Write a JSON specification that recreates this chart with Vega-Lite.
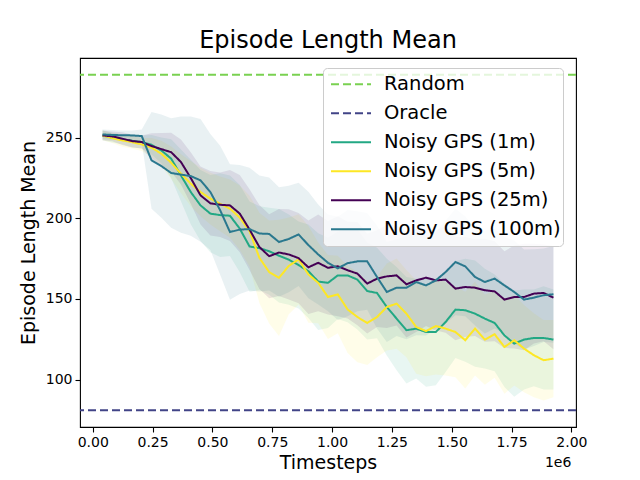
{
  "$schema": "https://vega.github.io/schema/vega-lite/v6.json",
  "width": 496,
  "height": 369,
  "autosize": {"type": "none"},
  "padding": {"left": 80, "top": 58, "right": 64, "bottom": 53},
  "background": "white",
  "title": {
    "text": "Episode Length Mean",
    "fontSize": 24,
    "fontWeight": "normal",
    "font": "DejaVu Sans",
    "color": "black",
    "anchor": "middle",
    "offset": 5
  },
  "datasets": {
    "runs": [
      {"series": "Noisy GPS (1m)", "t": 40960, "m": 251.4, "lo": 248.4, "hi": 254.4},
      {"series": "Noisy GPS (1m)", "t": 81920, "m": 250.0, "lo": 247.0, "hi": 253.0},
      {"series": "Noisy GPS (1m)", "t": 122880, "m": 248.9, "lo": 245.9, "hi": 251.9},
      {"series": "Noisy GPS (1m)", "t": 163840, "m": 248.1, "lo": 244.1, "hi": 252.1},
      {"series": "Noisy GPS (1m)", "t": 204800, "m": 247.3, "lo": 243.3, "hi": 251.3},
      {"series": "Noisy GPS (1m)", "t": 245760, "m": 245.6, "lo": 239.6, "hi": 251.6},
      {"series": "Noisy GPS (1m)", "t": 286720, "m": 242.1, "lo": 234.1, "hi": 250.1},
      {"series": "Noisy GPS (1m)", "t": 327680, "m": 237.0, "lo": 225.0, "hi": 249.0},
      {"series": "Noisy GPS (1m)", "t": 368640, "m": 226.6, "lo": 210.6, "hi": 242.6},
      {"series": "Noisy GPS (1m)", "t": 409600, "m": 216.3, "lo": 196.3, "hi": 236.3},
      {"series": "Noisy GPS (1m)", "t": 450560, "m": 208.0, "lo": 186.0, "hi": 230.0},
      {"series": "Noisy GPS (1m)", "t": 491520, "m": 202.9, "lo": 178.9, "hi": 226.9},
      {"series": "Noisy GPS (1m)", "t": 532480, "m": 202.0, "lo": 176.0, "hi": 228.0},
      {"series": "Noisy GPS (1m)", "t": 573440, "m": 201.6, "lo": 176.6, "hi": 226.6},
      {"series": "Noisy GPS (1m)", "t": 614400, "m": 193.6, "lo": 166.6, "hi": 220.6},
      {"series": "Noisy GPS (1m)", "t": 655360, "m": 182.5, "lo": 154.5, "hi": 210.5},
      {"series": "Noisy GPS (1m)", "t": 696320, "m": 181.5, "lo": 155.5, "hi": 207.5},
      {"series": "Noisy GPS (1m)", "t": 737280, "m": 179.6, "lo": 152.6, "hi": 206.6},
      {"series": "Noisy GPS (1m)", "t": 778240, "m": 176.8, "lo": 147.8, "hi": 205.8},
      {"series": "Noisy GPS (1m)", "t": 819200, "m": 174.4, "lo": 146.4, "hi": 202.4},
      {"series": "Noisy GPS (1m)", "t": 860160, "m": 171.0, "lo": 144.0, "hi": 198.0},
      {"series": "Noisy GPS (1m)", "t": 901120, "m": 167.2, "lo": 138.2, "hi": 196.2},
      {"series": "Noisy GPS (1m)", "t": 942080, "m": 160.8, "lo": 130.8, "hi": 190.8},
      {"series": "Noisy GPS (1m)", "t": 983040, "m": 160.0, "lo": 132.0, "hi": 188.0},
      {"series": "Noisy GPS (1m)", "t": 1024000, "m": 164.6, "lo": 137.6, "hi": 191.6},
      {"series": "Noisy GPS (1m)", "t": 1064960, "m": 164.6, "lo": 135.6, "hi": 193.6},
      {"series": "Noisy GPS (1m)", "t": 1105920, "m": 162.0, "lo": 131.0, "hi": 193.0},
      {"series": "Noisy GPS (1m)", "t": 1146880, "m": 154.9, "lo": 124.9, "hi": 184.9},
      {"series": "Noisy GPS (1m)", "t": 1187840, "m": 153.7, "lo": 125.7, "hi": 181.7},
      {"series": "Noisy GPS (1m)", "t": 1228800, "m": 145.0, "lo": 115.0, "hi": 175.0},
      {"series": "Noisy GPS (1m)", "t": 1269760, "m": 137.8, "lo": 105.8, "hi": 169.8},
      {"series": "Noisy GPS (1m)", "t": 1310720, "m": 130.6, "lo": 97.6, "hi": 163.6},
      {"series": "Noisy GPS (1m)", "t": 1351680, "m": 131.6, "lo": 100.6, "hi": 162.6},
      {"series": "Noisy GPS (1m)", "t": 1392640, "m": 129.5, "lo": 95.5, "hi": 163.5},
      {"series": "Noisy GPS (1m)", "t": 1433600, "m": 129.5, "lo": 96.5, "hi": 162.5},
      {"series": "Noisy GPS (1m)", "t": 1474560, "m": 135.7, "lo": 104.7, "hi": 166.7},
      {"series": "Noisy GPS (1m)", "t": 1515520, "m": 143.4, "lo": 113.4, "hi": 173.4},
      {"series": "Noisy GPS (1m)", "t": 1556480, "m": 143.0, "lo": 111.0, "hi": 175.0},
      {"series": "Noisy GPS (1m)", "t": 1597440, "m": 140.9, "lo": 107.9, "hi": 173.9},
      {"series": "Noisy GPS (1m)", "t": 1638400, "m": 137.8, "lo": 106.8, "hi": 168.8},
      {"series": "Noisy GPS (1m)", "t": 1679360, "m": 135.1, "lo": 105.1, "hi": 165.1},
      {"series": "Noisy GPS (1m)", "t": 1720320, "m": 127.4, "lo": 95.4, "hi": 159.4},
      {"series": "Noisy GPS (1m)", "t": 1761280, "m": 122.3, "lo": 89.3, "hi": 155.3},
      {"series": "Noisy GPS (1m)", "t": 1802240, "m": 124.8, "lo": 93.8, "hi": 155.8},
      {"series": "Noisy GPS (1m)", "t": 1843200, "m": 125.8, "lo": 95.8, "hi": 155.8},
      {"series": "Noisy GPS (1m)", "t": 1884160, "m": 125.8, "lo": 93.8, "hi": 157.8},
      {"series": "Noisy GPS (1m)", "t": 1925120, "m": 124.8, "lo": 93.8, "hi": 155.8},

      {"series": "Noisy GPS (5m)", "t": 40960, "m": 251.4, "lo": 248.4, "hi": 254.4},
      {"series": "Noisy GPS (5m)", "t": 81920, "m": 249.7, "lo": 246.7, "hi": 252.7},
      {"series": "Noisy GPS (5m)", "t": 122880, "m": 248.3, "lo": 244.3, "hi": 252.3},
      {"series": "Noisy GPS (5m)", "t": 163840, "m": 247.3, "lo": 243.3, "hi": 251.3},
      {"series": "Noisy GPS (5m)", "t": 204800, "m": 245.8, "lo": 241.8, "hi": 249.8},
      {"series": "Noisy GPS (5m)", "t": 245760, "m": 243.8, "lo": 237.8, "hi": 249.8},
      {"series": "Noisy GPS (5m)", "t": 286720, "m": 240.1, "lo": 232.1, "hi": 248.1},
      {"series": "Noisy GPS (5m)", "t": 327680, "m": 234.5, "lo": 224.5, "hi": 244.5},
      {"series": "Noisy GPS (5m)", "t": 368640, "m": 227.7, "lo": 215.7, "hi": 239.7},
      {"series": "Noisy GPS (5m)", "t": 409600, "m": 221.5, "lo": 207.5, "hi": 235.5},
      {"series": "Noisy GPS (5m)", "t": 450560, "m": 216.3, "lo": 201.3, "hi": 231.3},
      {"series": "Noisy GPS (5m)", "t": 491520, "m": 212.2, "lo": 196.2, "hi": 228.2},
      {"series": "Noisy GPS (5m)", "t": 532480, "m": 209.0, "lo": 192.0, "hi": 226.0},
      {"series": "Noisy GPS (5m)", "t": 573440, "m": 206.0, "lo": 188.0, "hi": 224.0},
      {"series": "Noisy GPS (5m)", "t": 614400, "m": 200.4, "lo": 180.4, "hi": 220.4},
      {"series": "Noisy GPS (5m)", "t": 655360, "m": 192.0, "lo": 170.0, "hi": 214.0},
      {"series": "Noisy GPS (5m)", "t": 696320, "m": 175.5, "lo": 147.5, "hi": 203.5},
      {"series": "Noisy GPS (5m)", "t": 737280, "m": 166.7, "lo": 134.7, "hi": 198.7},
      {"series": "Noisy GPS (5m)", "t": 778240, "m": 163.1, "lo": 127.1, "hi": 199.1},
      {"series": "Noisy GPS (5m)", "t": 819200, "m": 170.5, "lo": 140.5, "hi": 200.5},
      {"series": "Noisy GPS (5m)", "t": 860160, "m": 174.5, "lo": 146.5, "hi": 202.5},
      {"series": "Noisy GPS (5m)", "t": 901120, "m": 165.2, "lo": 135.2, "hi": 195.2},
      {"series": "Noisy GPS (5m)", "t": 942080, "m": 160.0, "lo": 135.0, "hi": 185.0},
      {"series": "Noisy GPS (5m)", "t": 983040, "m": 151.2, "lo": 125.2, "hi": 177.2},
      {"series": "Noisy GPS (5m)", "t": 1024000, "m": 152.8, "lo": 128.8, "hi": 176.8},
      {"series": "Noisy GPS (5m)", "t": 1064960, "m": 143.5, "lo": 116.5, "hi": 170.5},
      {"series": "Noisy GPS (5m)", "t": 1105920, "m": 138.8, "lo": 110.8, "hi": 166.8},
      {"series": "Noisy GPS (5m)", "t": 1146880, "m": 135.1, "lo": 109.1, "hi": 161.1},
      {"series": "Noisy GPS (5m)", "t": 1187840, "m": 138.8, "lo": 113.8, "hi": 163.8},
      {"series": "Noisy GPS (5m)", "t": 1228800, "m": 145.0, "lo": 118.0, "hi": 172.0},
      {"series": "Noisy GPS (5m)", "t": 1269760, "m": 147.1, "lo": 119.1, "hi": 175.1},
      {"series": "Noisy GPS (5m)", "t": 1310720, "m": 140.9, "lo": 113.9, "hi": 167.9},
      {"series": "Noisy GPS (5m)", "t": 1351680, "m": 132.6, "lo": 103.6, "hi": 161.6},
      {"series": "Noisy GPS (5m)", "t": 1392640, "m": 130.1, "lo": 102.1, "hi": 158.1},
      {"series": "Noisy GPS (5m)", "t": 1433600, "m": 133.2, "lo": 103.2, "hi": 163.2},
      {"series": "Noisy GPS (5m)", "t": 1474560, "m": 131.6, "lo": 102.6, "hi": 160.6},
      {"series": "Noisy GPS (5m)", "t": 1515520, "m": 129.5, "lo": 101.5, "hi": 157.5},
      {"series": "Noisy GPS (5m)", "t": 1556480, "m": 124.4, "lo": 94.4, "hi": 154.4},
      {"series": "Noisy GPS (5m)", "t": 1597440, "m": 131.6, "lo": 102.6, "hi": 160.6},
      {"series": "Noisy GPS (5m)", "t": 1638400, "m": 124.8, "lo": 96.8, "hi": 152.8},
      {"series": "Noisy GPS (5m)", "t": 1679360, "m": 128.1, "lo": 101.1, "hi": 155.1},
      {"series": "Noisy GPS (5m)", "t": 1720320, "m": 120.2, "lo": 91.2, "hi": 149.2},
      {"series": "Noisy GPS (5m)", "t": 1761280, "m": 124.4, "lo": 96.4, "hi": 152.4},
      {"series": "Noisy GPS (5m)", "t": 1802240, "m": 119.2, "lo": 92.2, "hi": 146.2},
      {"series": "Noisy GPS (5m)", "t": 1843200, "m": 115.1, "lo": 89.1, "hi": 141.1},
      {"series": "Noisy GPS (5m)", "t": 1884160, "m": 112.0, "lo": 87.0, "hi": 137.0},
      {"series": "Noisy GPS (5m)", "t": 1925120, "m": 113.0, "lo": 89.0, "hi": 137.0},

      {"series": "Noisy GPS (25m)", "t": 40960, "m": 251.4, "lo": 248.4, "hi": 254.4},
      {"series": "Noisy GPS (25m)", "t": 81920, "m": 250.8, "lo": 247.8, "hi": 253.8},
      {"series": "Noisy GPS (25m)", "t": 122880, "m": 249.4, "lo": 245.4, "hi": 253.4},
      {"series": "Noisy GPS (25m)", "t": 163840, "m": 247.9, "lo": 243.9, "hi": 251.9},
      {"series": "Noisy GPS (25m)", "t": 204800, "m": 247.3, "lo": 243.3, "hi": 251.3},
      {"series": "Noisy GPS (25m)", "t": 245760, "m": 244.8, "lo": 236.8, "hi": 252.8},
      {"series": "Noisy GPS (25m)", "t": 286720, "m": 242.9, "lo": 232.9, "hi": 252.9},
      {"series": "Noisy GPS (25m)", "t": 327680, "m": 241.0, "lo": 229.0, "hi": 253.0},
      {"series": "Noisy GPS (25m)", "t": 368640, "m": 234.9, "lo": 220.9, "hi": 248.9},
      {"series": "Noisy GPS (25m)", "t": 409600, "m": 225.0, "lo": 209.0, "hi": 241.0},
      {"series": "Noisy GPS (25m)", "t": 450560, "m": 214.2, "lo": 196.2, "hi": 232.2},
      {"series": "Noisy GPS (25m)", "t": 491520, "m": 209.3, "lo": 189.3, "hi": 229.3},
      {"series": "Noisy GPS (25m)", "t": 532480, "m": 208.4, "lo": 188.4, "hi": 228.4},
      {"series": "Noisy GPS (25m)", "t": 573440, "m": 208.0, "lo": 186.0, "hi": 230.0},
      {"series": "Noisy GPS (25m)", "t": 614400, "m": 202.9, "lo": 178.9, "hi": 226.9},
      {"series": "Noisy GPS (25m)", "t": 655360, "m": 193.0, "lo": 168.0, "hi": 218.0},
      {"series": "Noisy GPS (25m)", "t": 696320, "m": 182.2, "lo": 156.2, "hi": 208.2},
      {"series": "Noisy GPS (25m)", "t": 737280, "m": 176.5, "lo": 150.5, "hi": 202.5},
      {"series": "Noisy GPS (25m)", "t": 778240, "m": 178.8, "lo": 151.8, "hi": 205.8},
      {"series": "Noisy GPS (25m)", "t": 819200, "m": 177.6, "lo": 149.6, "hi": 205.6},
      {"series": "Noisy GPS (25m)", "t": 860160, "m": 175.3, "lo": 147.3, "hi": 203.3},
      {"series": "Noisy GPS (25m)", "t": 901120, "m": 169.6, "lo": 140.6, "hi": 198.6},
      {"series": "Noisy GPS (25m)", "t": 942080, "m": 172.4, "lo": 142.4, "hi": 202.4},
      {"series": "Noisy GPS (25m)", "t": 983040, "m": 169.3, "lo": 140.3, "hi": 198.3},
      {"series": "Noisy GPS (25m)", "t": 1024000, "m": 170.3, "lo": 139.3, "hi": 201.3},
      {"series": "Noisy GPS (25m)", "t": 1064960, "m": 167.8, "lo": 137.8, "hi": 197.8},
      {"series": "Noisy GPS (25m)", "t": 1105920, "m": 165.7, "lo": 133.7, "hi": 197.7},
      {"series": "Noisy GPS (25m)", "t": 1146880, "m": 159.5, "lo": 128.5, "hi": 190.5},
      {"series": "Noisy GPS (25m)", "t": 1187840, "m": 162.6, "lo": 132.6, "hi": 192.6},
      {"series": "Noisy GPS (25m)", "t": 1228800, "m": 164.0, "lo": 132.0, "hi": 196.0},
      {"series": "Noisy GPS (25m)", "t": 1269760, "m": 164.6, "lo": 133.6, "hi": 195.6},
      {"series": "Noisy GPS (25m)", "t": 1310720, "m": 159.1, "lo": 126.1, "hi": 192.1},
      {"series": "Noisy GPS (25m)", "t": 1351680, "m": 161.5, "lo": 129.5, "hi": 193.5},
      {"series": "Noisy GPS (25m)", "t": 1392640, "m": 163.2, "lo": 133.2, "hi": 193.2},
      {"series": "Noisy GPS (25m)", "t": 1433600, "m": 161.5, "lo": 130.5, "hi": 192.5},
      {"series": "Noisy GPS (25m)", "t": 1474560, "m": 162.0, "lo": 129.0, "hi": 195.0},
      {"series": "Noisy GPS (25m)", "t": 1515520, "m": 156.4, "lo": 124.4, "hi": 188.4},
      {"series": "Noisy GPS (25m)", "t": 1556480, "m": 157.4, "lo": 126.4, "hi": 188.4},
      {"series": "Noisy GPS (25m)", "t": 1597440, "m": 157.0, "lo": 127.0, "hi": 187.0},
      {"series": "Noisy GPS (25m)", "t": 1638400, "m": 155.4, "lo": 123.4, "hi": 187.4},
      {"series": "Noisy GPS (25m)", "t": 1679360, "m": 154.7, "lo": 123.7, "hi": 185.7},
      {"series": "Noisy GPS (25m)", "t": 1720320, "m": 149.6, "lo": 119.6, "hi": 179.6},
      {"series": "Noisy GPS (25m)", "t": 1761280, "m": 151.2, "lo": 119.2, "hi": 183.2},
      {"series": "Noisy GPS (25m)", "t": 1802240, "m": 151.2, "lo": 118.2, "hi": 184.2},
      {"series": "Noisy GPS (25m)", "t": 1843200, "m": 153.3, "lo": 122.3, "hi": 184.3},
      {"series": "Noisy GPS (25m)", "t": 1884160, "m": 153.7, "lo": 123.7, "hi": 183.7},
      {"series": "Noisy GPS (25m)", "t": 1925120, "m": 150.8, "lo": 118.8, "hi": 182.8},

      {"series": "Noisy GPS (100m)", "t": 40960, "m": 252.0, "lo": 249.0, "hi": 255.0},
      {"series": "Noisy GPS (100m)", "t": 81920, "m": 251.7, "lo": 248.7, "hi": 254.7},
      {"series": "Noisy GPS (100m)", "t": 122880, "m": 251.5, "lo": 248.5, "hi": 254.5},
      {"series": "Noisy GPS (100m)", "t": 163840, "m": 251.4, "lo": 248.4, "hi": 254.4},
      {"series": "Noisy GPS (100m)", "t": 204800, "m": 251.0, "lo": 247.0, "hi": 255.0},
      {"series": "Noisy GPS (100m)", "t": 245760, "m": 235.9, "lo": 205.9, "hi": 265.9},
      {"series": "Noisy GPS (100m)", "t": 286720, "m": 232.4, "lo": 200.4, "hi": 264.4},
      {"series": "Noisy GPS (100m)", "t": 327680, "m": 228.1, "lo": 194.1, "hi": 262.1},
      {"series": "Noisy GPS (100m)", "t": 368640, "m": 227.1, "lo": 191.1, "hi": 263.1},
      {"series": "Noisy GPS (100m)", "t": 409600, "m": 226.2, "lo": 189.2, "hi": 263.2},
      {"series": "Noisy GPS (100m)", "t": 450560, "m": 223.5, "lo": 185.5, "hi": 261.5},
      {"series": "Noisy GPS (100m)", "t": 491520, "m": 216.3, "lo": 180.3, "hi": 252.3},
      {"series": "Noisy GPS (100m)", "t": 532480, "m": 205.0, "lo": 165.0, "hi": 245.0},
      {"series": "Noisy GPS (100m)", "t": 573440, "m": 191.5, "lo": 149.5, "hi": 233.5},
      {"series": "Noisy GPS (100m)", "t": 614400, "m": 193.0, "lo": 153.0, "hi": 233.0},
      {"series": "Noisy GPS (100m)", "t": 655360, "m": 193.3, "lo": 155.3, "hi": 231.3},
      {"series": "Noisy GPS (100m)", "t": 696320, "m": 190.6, "lo": 154.6, "hi": 226.6},
      {"series": "Noisy GPS (100m)", "t": 737280, "m": 190.3, "lo": 155.3, "hi": 225.3},
      {"series": "Noisy GPS (100m)", "t": 778240, "m": 185.3, "lo": 151.3, "hi": 219.3},
      {"series": "Noisy GPS (100m)", "t": 819200, "m": 187.2, "lo": 154.2, "hi": 220.2},
      {"series": "Noisy GPS (100m)", "t": 860160, "m": 190.0, "lo": 158.0, "hi": 222.0},
      {"series": "Noisy GPS (100m)", "t": 901120, "m": 183.4, "lo": 150.4, "hi": 216.4},
      {"series": "Noisy GPS (100m)", "t": 942080, "m": 177.6, "lo": 146.6, "hi": 208.6},
      {"series": "Noisy GPS (100m)", "t": 983040, "m": 172.4, "lo": 142.4, "hi": 202.4},
      {"series": "Noisy GPS (100m)", "t": 1024000, "m": 169.0, "lo": 137.0, "hi": 201.0},
      {"series": "Noisy GPS (100m)", "t": 1064960, "m": 172.2, "lo": 139.2, "hi": 205.2},
      {"series": "Noisy GPS (100m)", "t": 1105920, "m": 173.3, "lo": 142.3, "hi": 204.3},
      {"series": "Noisy GPS (100m)", "t": 1146880, "m": 173.3, "lo": 143.3, "hi": 203.3},
      {"series": "Noisy GPS (100m)", "t": 1187840, "m": 163.6, "lo": 131.6, "hi": 195.6},
      {"series": "Noisy GPS (100m)", "t": 1228800, "m": 154.3, "lo": 123.3, "hi": 185.3},
      {"series": "Noisy GPS (100m)", "t": 1269760, "m": 157.0, "lo": 127.0, "hi": 187.0},
      {"series": "Noisy GPS (100m)", "t": 1310720, "m": 157.0, "lo": 125.0, "hi": 189.0},
      {"series": "Noisy GPS (100m)", "t": 1351680, "m": 160.5, "lo": 127.5, "hi": 193.5},
      {"series": "Noisy GPS (100m)", "t": 1392640, "m": 158.4, "lo": 127.4, "hi": 189.4},
      {"series": "Noisy GPS (100m)", "t": 1433600, "m": 161.5, "lo": 131.5, "hi": 191.5},
      {"series": "Noisy GPS (100m)", "t": 1474560, "m": 166.7, "lo": 134.7, "hi": 198.7},
      {"series": "Noisy GPS (100m)", "t": 1515520, "m": 172.9, "lo": 139.9, "hi": 205.9},
      {"series": "Noisy GPS (100m)", "t": 1556480, "m": 170.2, "lo": 139.2, "hi": 201.2},
      {"series": "Noisy GPS (100m)", "t": 1597440, "m": 163.6, "lo": 133.6, "hi": 193.6},
      {"series": "Noisy GPS (100m)", "t": 1638400, "m": 160.5, "lo": 128.5, "hi": 192.5},
      {"series": "Noisy GPS (100m)", "t": 1679360, "m": 162.6, "lo": 131.6, "hi": 193.6},
      {"series": "Noisy GPS (100m)", "t": 1720320, "m": 158.4, "lo": 128.4, "hi": 188.4},
      {"series": "Noisy GPS (100m)", "t": 1761280, "m": 154.3, "lo": 122.3, "hi": 186.3},
      {"series": "Noisy GPS (100m)", "t": 1802240, "m": 149.6, "lo": 118.6, "hi": 180.6},
      {"series": "Noisy GPS (100m)", "t": 1843200, "m": 150.8, "lo": 120.8, "hi": 180.8},
      {"series": "Noisy GPS (100m)", "t": 1884160, "m": 152.3, "lo": 123.3, "hi": 181.3},
      {"series": "Noisy GPS (100m)", "t": 1925120, "m": 152.9, "lo": 122.9, "hi": 182.9}
    ],
    "refs": [
      {"series": "Random", "value": 289.0},
      {"series": "Oracle", "value": 81.0}
    ]
  },
  "layer": [
    {
      "data": {"name": "runs"},
      "mark": {"type": "area", "opacity": 0.1, "interpolate": "linear"},
      "encoding": {
        "x": {"field": "t", "type": "quantitative"},
        "y": {"field": "lo", "type": "quantitative"},
        "y2": {"field": "hi"},
        "color": {"field": "series", "type": "nominal", "title": null},
        "detail": {"field": "series"}
      }
    },
    {
      "data": {"name": "runs"},
      "mark": {"type": "line", "strokeWidth": 2},
      "encoding": {
        "x": {
          "field": "t",
          "type": "quantitative",
          "scale": {"domain": [-53200, 2019300], "nice": false, "zero": false},
          "axis": {
            "title": "Timesteps",
            "values": [0, 250000, 500000, 750000, 1000000, 1250000, 1500000, 1750000, 2000000],
            "labelExpr": "format(datum.value / 1000000, '.2f')"
          }
        },
        "y": {
          "field": "m",
          "type": "quantitative",
          "scale": {"domain": [70.6, 299.4], "nice": false, "zero": false},
          "axis": {"title": "Episode Length Mean", "values": [100, 150, 200, 250]}
        },
        "color": {
          "field": "series",
          "type": "nominal",
          "title": null,
          "scale": {
            "domain": ["Random", "Oracle", "Noisy GPS (1m)", "Noisy GPS (5m)", "Noisy GPS (25m)", "Noisy GPS (100m)"],
            "range": ["#7ad151", "#414487", "#22a884", "#fde725", "#440154", "#2a788e"]
          }
        },
        "strokeDash": {
          "field": "series",
          "type": "nominal",
          "title": null,
          "scale": {
            "domain": ["Random", "Oracle", "Noisy GPS (1m)", "Noisy GPS (5m)", "Noisy GPS (25m)", "Noisy GPS (100m)"],
            "range": [[8, 4], [8, 4], [1, 0], [1, 0], [1, 0], [1, 0]]
          }
        }
      }
    },
    {
      "data": {"name": "refs"},
      "mark": {"type": "rule", "strokeWidth": 2},
      "encoding": {
        "y": {"field": "value", "type": "quantitative"},
        "color": {"field": "series", "type": "nominal", "title": null},
        "strokeDash": {"field": "series", "type": "nominal", "title": null}
      }
    },
    {
      "data": {"values": [{}]},
      "mark": {"type": "text", "align": "right", "baseline": "middle", "fontSize": 14, "color": "black"},
      "encoding": {
        "x": {"datum": 2000000, "type": "quantitative"},
        "y": {"datum": 48.5, "type": "quantitative"},
        "text": {"value": "1e6"}
      }
    }
  ],
  "config": {
    "font": "DejaVu Sans",
    "view": {"stroke": "black", "strokeWidth": 1.1},
    "axis": {
      "grid": false,
      "domain": false,
      "tickColor": "black",
      "tickSize": 5,
      "tickWidth": 1.1,
      "labelColor": "black",
      "labelFontSize": 14,
      "labelPadding": 3,
      "titleColor": "black",
      "titleFontSize": 19,
      "titleFontWeight": "normal"
    },
    "axisX": {"titlePadding": 4, "labelFlush": false},
    "axisY": {"titlePadding": 7, "labelFlush": false},
    "legend": {
      "orient": "none",
      "legendX": 243,
      "legendY": 10,
      "symbolType": "stroke",
      "symbolSize": 1600,
      "symbolStrokeWidth": 2,
      "symbolOpacity": 1,
      "symbolOffset": 5,
      "clipHeight": 28.7,
      "labelFontSize": 19.5,
      "labelColor": "black",
      "labelOffset": 12,
      "labelLimit": 0,
      "padding": 2,
      "rowPadding": 0,
      "fillColor": "rgba(255,255,255,0.8)",
      "strokeColor": "#cccccc",
      "cornerRadius": 4
    }
  }
}
